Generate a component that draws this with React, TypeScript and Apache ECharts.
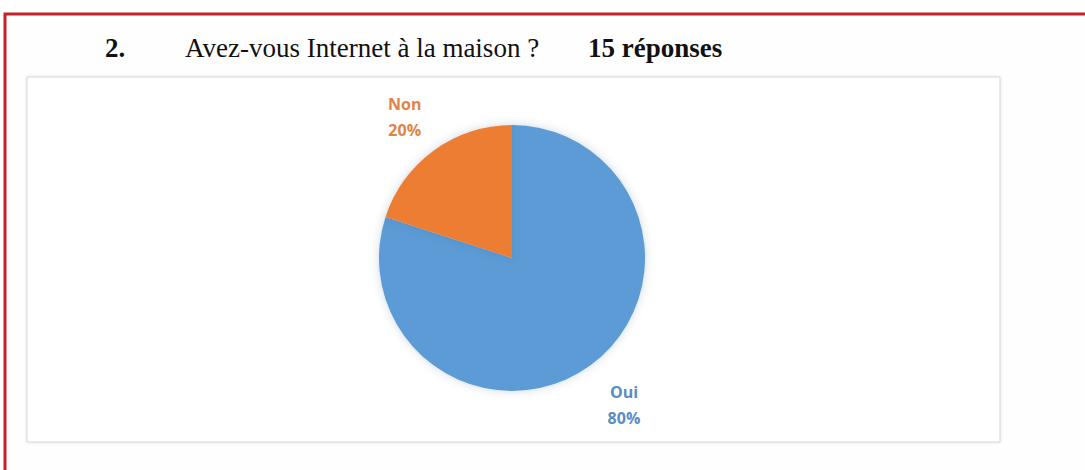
import React, { useEffect, useRef } from "react";
import * as echarts from "echarts";

const categories = ["Oui", "Non"];
const values = [80, 20];
const sliceColors = ["#5B9BD5", "#ED7D31"];
const labelColors = ["#5A8CC6", "#DF8446"];
const labelLineLengths = [49, 41];
const questionNumber = "2.";
const questionText = "Avez-vous Internet à la maison ?";
const responsesText = "15 réponses";

export default function App() {
  const ref = useRef<HTMLDivElement>(null);
  useEffect(() => {
    document.body.style.margin = "0";
    const chart = echarts.init(ref.current!, null, { renderer: "svg" });
    const serif = "'Liberation Serif', 'Times New Roman', serif";
    chart.setOption({
      animation: false,
      backgroundColor: "#ffffff",
      graphic: [
        {
          type: "rect",
          z: -2,
          shape: { x: 6, y: 15, width: 1079, height: 455 },
          style: { fill: "#fefefe" },
        },
        {
          type: "polyline",
          z: 10,
          shape: { points: [[5, 470], [5, 14], [1085, 14]] },
          style: { stroke: "#C42128", lineWidth: 3, fill: "none" },
        },
        {
          type: "rect",
          z: -1,
          shape: { x: 27, y: 77, width: 973, height: 365 },
          style: {
            fill: "#ffffff",
            stroke: "#D6D6D6",
            lineWidth: 1,
            shadowBlur: 3,
            shadowColor: "rgba(0,0,0,0.12)",
          },
        },
        {
          type: "text",
          x: 105,
          y: 48,
          style: {
            text: questionNumber,
            font: `bold 27px ${serif}`,
            fill: "#111",
            verticalAlign: "middle",
          },
        },
        {
          type: "text",
          x: 185,
          y: 48,
          style: {
            text: questionText,
            font: `27px ${serif}`,
            fill: "#111",
            verticalAlign: "middle",
          },
        },
        {
          type: "text",
          x: 588,
          y: 48,
          style: {
            text: responsesText,
            font: `bold 27px ${serif}`,
            fill: "#111",
            verticalAlign: "middle",
          },
        },
      ],
      series: [
        {
          type: "pie",
          center: [512, 258],
          radius: 133,
          startAngle: 90,
          clockwise: true,
          z: 2,
          itemStyle: {
            shadowBlur: 8,
            shadowColor: "rgba(60,90,130,0.25)",
          },
          label: {
            show: true,
            position: "outside",
            formatter: "{b}\n{d}%",
            fontFamily: "'Open Sans', 'Noto Sans', sans-serif",
            fontSize: 16,
            fontWeight: "bold",
            lineHeight: 26,
          },
          labelLine: { show: false, length2: 0 },
          labelLayout: () => ({ align: "center" }),
          data: categories.map((name, i) => ({
            name,
            value: values[i],
            itemStyle: { color: sliceColors[i] },
            label: { color: labelColors[i] },
            labelLine: { show: false, length: labelLineLengths[i], length2: 0 },
          })),
        },
      ],
    });
    return () => chart.dispose();
  }, []);
  return (
    <div
      ref={ref}
      style={{ position: "fixed", left: 0, top: 0, width: 1085, height: 470 }}
    />
  );
}
